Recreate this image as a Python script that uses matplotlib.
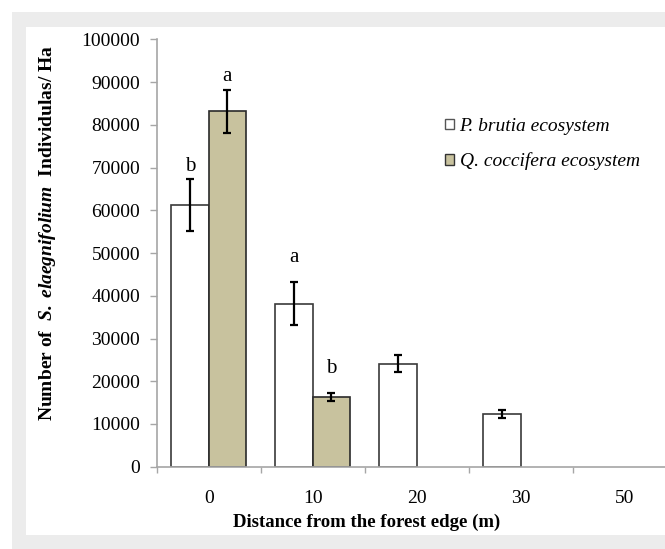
import matplotlib
matplotlib.use('Agg')
import matplotlib.pyplot as plt
from matplotlib.patches import Rectangle
import numpy as np

# Data
categories = ['0', '10', '20', '30', '50']
brutia_mean = [61300, 38200, 24100, 12300, 0]
brutia_err = [6100, 5000, 2000, 1000, 0]
coccifera_mean = [83200, 16300, 0, 0, 0]
coccifera_err = [5000, 1000, 0, 0, 0]
brutia_letters = ['b', 'a', '', '', '']
brutia_letter_y = [70200, 48900, 0, 0, 0]
coccifera_letters = ['a', 'b', '', '', '']
coccifera_letter_y = [91300, 23000, 0, 0, 0]
y_ticks = list(range(0, 100001, 10000))

TAN = '#c8c29e'
AXIS_GRAY = '#a6a6a6'

plt.rcParams['font.family'] = ['Liberation Serif', 'DejaVu Serif']
plt.rcParams['mathtext.fontset'] = 'custom'
plt.rcParams['mathtext.rm'] = 'Liberation Serif'
plt.rcParams['mathtext.it'] = 'Liberation Serif:italic'
plt.rcParams['mathtext.bf'] = 'Liberation Serif:bold'
plt.rcParams['mathtext.bfit'] = 'Liberation Serif:italic:bold'

W, H = 665, 549
fig = plt.figure(figsize=(W / 100, H / 100), dpi=100)
fig.patch.set_facecolor('white')

# grey frame with white panel (figure background)
fig.patches.append(Rectangle((12 / W, 0), 1, 1 - 12 / H, transform=fig.transFigure,
                             facecolor='#ececec', edgecolor='none', zorder=-10))
fig.patches.append(Rectangle((26 / W, 1 - 535 / H), 1, (535 - 27) / H,
                             transform=fig.transFigure,
                             facecolor='white', edgecolor='none', zorder=-9))

# plot area (extends past right edge like the original)
x0, x1 = 156.7, 676.7
y_top, y_bot = 39.5, 466.7
ax = fig.add_axes([x0 / W, 1 - y_bot / H, (x1 - x0) / W, (y_bot - y_top) / H])
ax.patch.set_alpha(0)

x = np.arange(len(categories))
width = 0.36

ax.bar(x - width / 2, brutia_mean, width, color='white', edgecolor='#3a3a3a',
       linewidth=[1.2 if v > 0 else 0 for v in brutia_mean], zorder=2)
ax.bar(x + width / 2, coccifera_mean, width, color=TAN, edgecolor='#2a2a2a',
       linewidth=[1.2 if v > 0 else 0 for v in coccifera_mean], zorder=2)

for i in range(len(categories)):
    if brutia_mean[i] > 0:
        ax.errorbar(x[i] - width / 2, brutia_mean[i], yerr=brutia_err[i], fmt='none',
                    ecolor='black', elinewidth=1.6, capsize=3, capthick=1.6, zorder=3)
    if coccifera_mean[i] > 0:
        ax.errorbar(x[i] + width / 2, coccifera_mean[i], yerr=coccifera_err[i], fmt='none',
                    ecolor='black', elinewidth=1.6, capsize=3, capthick=1.6, zorder=3)
    if brutia_letters[i]:
        ax.text(x[i] - width / 2, brutia_letter_y[i], brutia_letters[i],
                ha='center', va='center', fontsize=15)
    if coccifera_letters[i]:
        ax.text(x[i] + width / 2, coccifera_letter_y[i], coccifera_letters[i],
                ha='center', va='center', fontsize=15)

ax.set_xlim(-0.5, len(categories) - 0.5)
ax.set_ylim(0, 100000)
ax.set_yticks(y_ticks)
ax.set_yticklabels([str(v) for v in y_ticks])
ax.set_xticks(x)
ax.set_xticklabels(categories)
ax.set_xticks(np.arange(len(categories) + 1) - 0.5, minor=True)

for side in ['top', 'right']:
    ax.spines[side].set_visible(False)
for side in ['left', 'bottom']:
    ax.spines[side].set_color(AXIS_GRAY)
    ax.spines[side].set_linewidth(1.2)

ax.tick_params(axis='y', direction='out', length=5, width=1, color=AXIS_GRAY,
               pad=7, labelsize=14)
ax.tick_params(axis='x', which='major', length=0, pad=17, labelsize=14)
ax.tick_params(axis='x', which='minor', direction='out', length=4, width=1,
               color=AXIS_GRAY)

# axis titles
fig.text(48 / W, 1 - 233 / H,
         r'Number of  $\mathbfit{S.\ elaegnifolium}$  Individulas/ Ha',
         rotation=90, ha='center', va='center', fontsize=14, fontweight='bold')
fig.text(367 / W, 1 - 522 / H, 'Distance from the forest edge (m)',
         ha='center', va='center', fontsize=13.5, fontweight='bold')

# legend
handles = [Rectangle((0, 0), 1, 1, facecolor='white', edgecolor='#555555', linewidth=1),
           Rectangle((0, 0), 1, 1, facecolor=TAN, edgecolor='#333333', linewidth=1)]
fig.legend(handles, ['P. brutia ecosystem', 'Q. coccifera ecosystem'],
           loc='upper left', bbox_to_anchor=(445 / W, 1 - 118 / H),
           frameon=False, borderpad=0, borderaxespad=0,
           handlelength=0.45, handleheight=0.45, handletextpad=0.3,
           labelspacing=0.9,
           prop={'family': 'Liberation Serif', 'style': 'italic', 'size': 14})

fig.savefig('out.png', dpi=100, facecolor=fig.get_facecolor())
